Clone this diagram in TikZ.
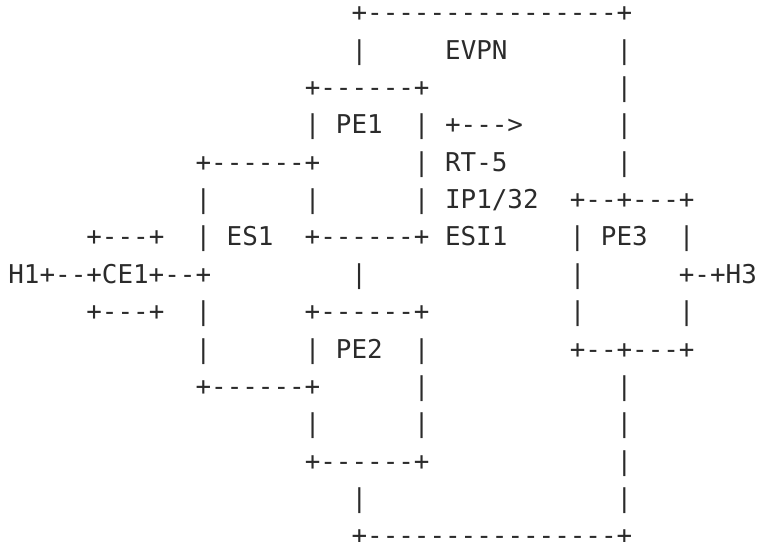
\documentclass[tikz,border=0pt]{standalone}
\usepackage{fontspec}
\setmonofont{DejaVu Sans Mono}
\usepackage{xcolor}
\usepackage{tikz}
\definecolor{asciigrau}{HTML}{2B2B2B}
\frenchspacing

\begin{document}
\begin{tikzpicture}[x=15.6pt, y=-37.36pt,
		zeile/.style={anchor=base west, inner sep=0pt, text=asciigrau,
			font=\ttfamily\fontsize{25.9}{31}\selectfont}]
		% Rahmen
		\useasboundingbox (-8.2pt,-15.56pt) rectangle (748.8pt,-556.56pt);

		% Zeilen
		\node[zeile] (z1)  at (22,1)  {+----------------+};
		\node[zeile] (z2)  at (22,2)  {|~~~~~EVPN~~~~~~~|};
		\node[zeile] (z3)  at (19,3)  {+------+~~~~~~~~~~~~|};
		\node[zeile] (z4)  at (19,4)  {|~PE1~~|~+--->~~~~~~|};
		\node[zeile] (z5)  at (12,5)  {+------+~~~~~~|~RT-5~~~~~~~|};
		\node[zeile] (z6)  at (12,6)  {|~~~~~~|~~~~~~|~IP1/32~~+--+---+};
		\node[zeile] (z7)  at (5,7)   {+---+~~|~ES1~~+------+~ESI1~~~~|~PE3~~|};
		\node[zeile] (z8)  at (0,8)   {H1+--+CE1+--+~~~~~~~~~|~~~~~~~~~~~~~|~~~~~~+-+H3};
		\node[zeile] (z9)  at (5,9)   {+---+~~|~~~~~~+------+~~~~~~~~~|~~~~~~|};
		\node[zeile] (z10) at (12,10) {|~~~~~~|~PE2~~|~~~~~~~~~+--+---+};
		\node[zeile] (z11) at (12,11) {+------+~~~~~~|~~~~~~~~~~~~|};
		\node[zeile] (z12) at (19,12) {|~~~~~~|~~~~~~~~~~~~|};
		\node[zeile] (z13) at (19,13) {+------+~~~~~~~~~~~~|};
		\node[zeile] (z14) at (22,14) {|~~~~~~~~~~~~~~~~|};
		\node[zeile] (z15) at (22,15) {+----------------+};
	\end{tikzpicture}
\end{document}
